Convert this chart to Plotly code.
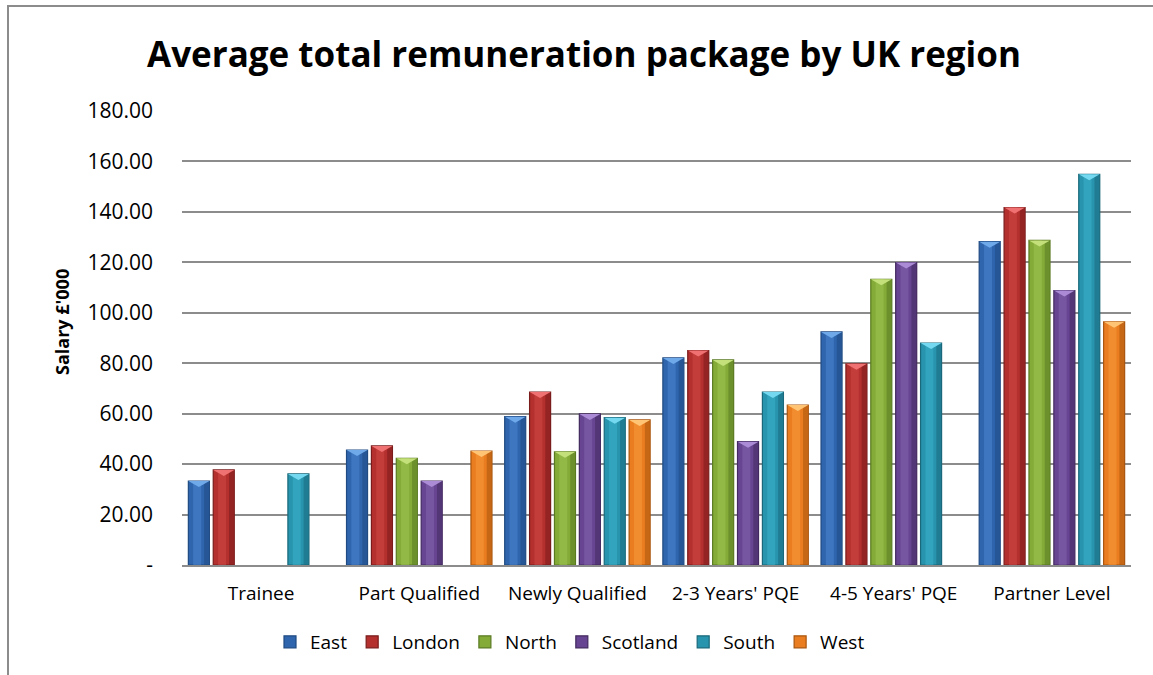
import plotly.graph_objects as go

# Salary data (£'000) by experience level and UK region
levels = ["Trainee", "Part Qualified", "Newly Qualified",
          "2-3 Years' PQE", "4-5 Years' PQE", "Partner Level"]
east = [33.3, 45.6, 58.8, 82.1, 92.4, 128.2]
london = [37.7, 47.2, 68.6, 85.0, 79.8, 141.7]
north = [None, 42.3, 44.9, 81.3, 113.3, 128.7]
scotland = [None, 33.3, 59.9, 48.9, 119.9, 108.8]
south = [36.1, None, 58.4, 68.6, 88.0, 154.9]
west = [None, 45.2, 57.5, 63.4, None, 96.4]

y_ticks = [0, 20, 40, 60, 80, 100, 120, 140, 160, 180]
y_tick_text = ["-" if v == 0 else f"{v:.2f}" for v in y_ticks]

series = [
    # name, values, edge, body, highlight, bevel top
    ("East", east, "#1f4a82", "#2f65ad", "#4b86cf", "#6fa9ea"),
    ("London", london, "#7a1c1b", "#b3302e", "#d04846", "#f07171"),
    ("North", north, "#5a7a22", "#84ab38", "#9fc552", "#c3e07a"),
    ("Scotland", scotland, "#42295f", "#684592", "#8262ad", "#ab8bd6"),
    ("South", south, "#19687b", "#2894ad", "#3cb1cb", "#74d9f0"),
    ("West", west, "#a9560f", "#e97d1f", "#f89b3d", "#ffc474"),
]

W, H = 1153, 675
PL, PR, PT, PB = 182, 1131, 111, 565          # plot area in pixels
Y_MAX = 180
px_per_unit = (PB - PT) / Y_MAX

n = len(series)
group_pad = 0.028                               # space at each side of a cluster
slot = (1 - 2 * group_pad) / n
bar_w = slot * 0.845

fig = go.Figure()

for i, (name, vals, edge, body, hi, top) in enumerate(series):
    xs = [k - 0.5 + group_pad + slot * (i + 0.5) for k in range(len(levels))]
    # main bar body
    fig.add_trace(go.Bar(
        x=xs, y=vals, width=bar_w, name=name, legendgroup=name,
        marker=dict(color=body, line=dict(color=edge, width=1.2)),
        showlegend=True,
    ))
    # darker right edge band
    fig.add_trace(go.Bar(
        x=[x + bar_w * 0.36 for x in xs], y=vals, width=bar_w * 0.22,
        marker=dict(color=edge, opacity=0.55, line=dict(width=0)),
        legendgroup=name, showlegend=False, hoverinfo="skip",
    ))
    # lighter centre highlight
    fig.add_trace(go.Bar(
        x=[x - bar_w * 0.08 for x in xs], y=vals, width=bar_w * 0.38,
        marker=dict(color=hi, opacity=0.55, line=dict(width=0)),
        legendgroup=name, showlegend=False, hoverinfo="skip",
    ))
    # bevelled top facet
    tri_h = 6 / px_per_unit
    tx, ty = [], []
    for x, v in zip(xs, vals):
        if v is None:
            continue
        tx += [x - bar_w / 2, x + bar_w / 2, x, x - bar_w / 2, None]
        ty += [v, v, v - tri_h, v, None]
    fig.add_trace(go.Scatter(
        x=tx, y=ty, mode="lines", fill="toself", fillcolor=top,
        line=dict(width=0, color=top), legendgroup=name,
        showlegend=False, hoverinfo="skip",
    ))

def xp(px):
    return (px - PL) / (PR - PL)

def yp(py):
    return (PB - py) / (PB - PT)

font_family = "'Open Sans', 'Noto Sans', Arial, sans-serif"

fig.update_layout(
    width=W, height=H,
    margin=dict(l=PL, r=W - PR, t=PT, b=H - PB),
    paper_bgcolor="white", plot_bgcolor="white",
    barmode="overlay",
    font=dict(family=font_family, size=19, color="#000000"),
    title=dict(
        text="<b>Average total remuneration package by UK region</b>",
        x=584 / W, xanchor="center", y=1 - 55 / H, yanchor="middle",
        xref="container", yref="container",
        font=dict(family=font_family, size=35, color="#000000"),
    ),
    xaxis=dict(
        tickmode="array", tickvals=list(range(len(levels))), ticktext=levels,
        range=[-0.5, len(levels) - 0.5], showgrid=False, zeroline=False,
        showline=True, linecolor="#8c8c8c", linewidth=2,
        ticks="", tickfont=dict(size=19), ticklabelstandoff=10,
    ),
    yaxis=dict(
        range=[0, Y_MAX], tickmode="array", tickvals=y_ticks, ticktext=y_tick_text,
        showgrid=True, gridcolor="#8c8c8c", gridwidth=2, zeroline=False,
        showline=False, ticks="", tickfont=dict(size=21), ticklabelstandoff=28,
    ),
    legend=dict(
        orientation="h", x=570 / W, xanchor="center", y=1 - 642 / H,
        yanchor="middle", xref="container", yref="container",
        font=dict(size=19), itemwidth=30, traceorder="normal",
        bgcolor="rgba(0,0,0,0)",
    ),
    annotations=[dict(
        text="<b>Salary £'000</b>", textangle=-90,
        x=xp(62), y=yp(322), xref="paper", yref="paper",
        showarrow=False, font=dict(size=18),
        xanchor="center", yanchor="middle",
    )],
    shapes=[dict(
        type="rect", xref="paper", yref="paper",
        x0=xp(8), x1=xp(W + 20), y0=yp(H + 20), y1=yp(6),
        line=dict(color="#8c8c8c", width=2), layer="below",
    )],
)

fig.write_html("out.html")
